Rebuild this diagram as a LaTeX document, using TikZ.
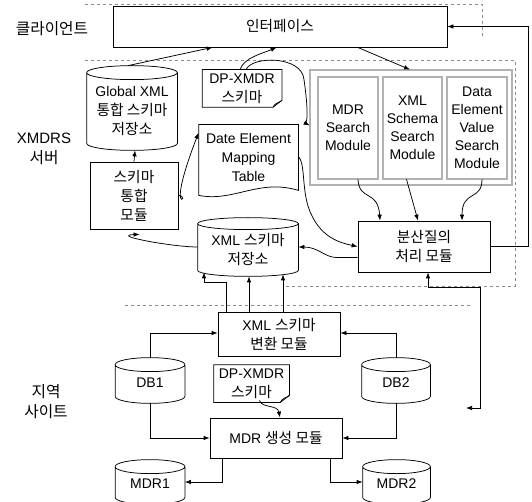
\documentclass[tikz,border=0pt]{standalone}
\usepackage{fontspec}
\setmainfont{Liberation Sans}
\newfontfamily\kr[Scale=1.05]{Noto Sans CJK KR}
\usetikzlibrary{arrows.meta,calc}
\newcommand\cylout[2]{%
  \draw let \p1=(#1.north west), \p2=(#1.south east), \n1={(\x2-\x1)/2} in
    (\x1,\y1) -- (\x1,\y2) arc[start angle=180,end angle=360,x radius=\n1,y radius=#2pt]
    -- (\x2,\y1) arc[start angle=0,end angle=180,x radius=\n1,y radius=#2pt]
    (\x1,\y1) arc[start angle=180,end angle=360,x radius=\n1,y radius=#2pt];}
\newcommand\docout[1]{%
  \draw (#1.north west) -- (#1.north east) -- ([yshift=7pt]#1.south east)
    -- ([xshift=-9pt]#1.south east) -- (#1.south west) -- cycle;
  \draw ([xshift=-9pt]#1.south east) .. controls ([xshift=-7pt,yshift=5pt]#1.south east) and ([xshift=-3pt,yshift=4pt]#1.south east) .. ([yshift=7pt]#1.south east);}
\begin{document}
\begin{tikzpicture}[x=1pt,y=-1pt,line width=0.75pt,
  txt/.style={align=center,inner sep=0pt,font=\fontsize{14}{19}\selectfont},
  box/.style={txt,draw},
  hid/.style={txt,draw=none},
  mod/.style={txt,draw=black!85,double=black!30,double distance=1.2pt,font=\fontsize{14}{18}\selectfont},
  arr/.style={-{Latex[length=6pt,width=4.5pt]}},
  biarr/.style={{Latex[length=6pt,width=4.5pt]}-{Latex[length=6pt,width=4.5pt]}},
  region/.style={draw=black!45,line width=0.5pt,dash pattern=on 3pt off 3pt},
  lbl/.style={align=center,inner sep=0pt,font=\fontsize{15}{20}\selectfont}]
\useasboundingbox (0,0) rectangle (532,502);

% region separators
\draw[region] (85,4) -- (482,4) -- (482,38);
\draw[region] (85,60) -- (515,60) -- (515,286) -- (285,286);
\draw[region] (125,305) -- (470,305);

% side labels
\node[lbl] (lc) at (52,29) {\kr 클라이언트};
\node[lbl] (ls) at (44,149) {XMDRS\\{\kr 서버}};
\node[lbl] (ll) at (46,402) {{\kr 지역}\\{\kr 사이트}};

% client
\node[box,minimum width=334pt,minimum height=41pt] (intf) at (280,26.5) {\kr 인터페이스};

% server
\node[hid,minimum width=90pt,minimum height=70pt] (gx) at (132,108) {};
\cylout{gx}{7}
\node[txt] (gxt) at ([yshift=-3pt]gx.center) {Global XML\\{\kr 통합 스키마}\\{\kr 저장소}};
\node[hid,minimum width=79pt,minimum height=37pt] (dp1) at (242,88.5) {DP-XMDR\\{\kr 스키마}};
\docout{dp1}
\node[hid,minimum width=99pt,minimum height=65pt] (mt) at (248.5,157.5) {Date Element\\Mapping\\Table};
\draw (mt.north east) -- (mt.north west) -- ([yshift=-5pt]mt.south west)
  .. controls ([xshift=35pt,yshift=-12pt]mt.south west) and ([xshift=-40pt,yshift=12pt]mt.south east) .. (mt.south east) -- cycle;
\node[box,minimum width=88pt,minimum height=67pt] (sm) at (134,195.5) {\kr 스키마\\\kr 통합\\\kr 모듈};
\node[hid,minimum width=100pt,minimum height=46pt] (xs) at (248,247) {};
\cylout{xs}{6}
\node[txt] (xst) at ([yshift=-3pt]xs.center) {XML {\kr 스키마}\\{\kr 저장소}};

\node[draw=black!85,double=black!30,double distance=1.4pt,minimum width=202pt,minimum height=115pt,inner sep=0pt] (grp) at (411,127.5) {};
\node[mod,minimum width=60pt,minimum height=102pt] (m1) at (348,128) {MDR\\Search\\Module};
\node[mod,minimum width=59pt,minimum height=102pt] (m2) at (412.5,128) {XML\\Schema\\Search\\Module};
\node[mod,minimum width=60pt,minimum height=102pt] (m3) at (477,128) {Data\\Element\\Value\\Search\\Module};

\node[box,minimum width=132pt,minimum height=51pt] (dq) at (424,246.5) {{\kr 분산질의}\\{\kr 처리 모듈}};

% local site
\node[box,minimum width=122pt,minimum height=44pt] (cv) at (279,334) {XML {\kr 스키마}\\{\kr 변환 모듈}};
\node[hid,minimum width=69pt,minimum height=31pt] (db1) at (150,380.5) {};
\cylout{db1}{7}
\node[txt] (db1t) at ([yshift=-2pt]db1.center) {DB1};
\node[hid,minimum width=68pt,minimum height=31pt] (db2) at (396,380.5) {};
\cylout{db2}{7}
\node[txt] (db2t) at ([yshift=-2pt]db2.center) {DB2};
\node[hid,minimum width=75pt,minimum height=37pt] (dp2) at (251.5,383.5) {DP-XMDR\\{\kr 스키마}};
\docout{dp2}
\node[box,minimum width=132pt,minimum height=40pt] (mg) at (276,438) {MDR {\kr 생성 모듈}};
\node[hid,minimum width=69pt,minimum height=30pt] (mdr1) at (150,482) {};
\cylout{mdr1}{7}
\node[txt] (mdr1t) at ([yshift=-2pt]mdr1.center) {MDR1};
\node[hid,minimum width=67pt,minimum height=30pt] (mdr2) at (396.5,482) {};
\cylout{mdr2}{7}
\node[txt] (mdr2t) at ([yshift=-2pt]mdr2.center) {MDR2};

% connectors: server/client
\draw[arr] ([xshift=-4pt,yshift=7pt]gx.north) -- ([xshift=100pt]intf.south west);
\draw[arr] ([xshift=-2pt]dp1.north) .. controls ([xshift=2pt,yshift=12pt]dp1.north) and ([xshift=20pt,yshift=16pt]dp1.north) .. ([xshift=164pt]intf.south west);
\draw[arr] ([xshift=4pt]dp1.north) .. controls ([xshift=10pt,yshift=14pt]dp1.north) and ([xshift=60pt,yshift=14pt]dp1.north) .. ([xshift=62pt,yshift=-10pt]dp1.north)
  .. controls ([xshift=66pt,yshift=-38pt]dp1.north) and ([xshift=66pt,yshift=-55pt]dp1.north) .. ([yshift=2pt]grp.west);
\draw[arr] ([xshift=245pt]intf.south west) -- ([xshift=-1pt]grp.north);
\draw[arr] (dq.east) -- ++(38,0) |- (intf.east);
\draw[arr] (sm.north) -- ([xshift=3pt,yshift=-7pt]gx.south);
\draw[arr] (sm.east) .. controls ([xshift=14pt]sm.east) and ([xshift=-14pt,yshift=-26pt]sm.east) .. ([yshift=-8pt]mt.north west);
\draw[arr] ([yshift=-32pt]mt.north east) .. controls ([xshift=8pt,yshift=-40pt]mt.north east) and ([xshift=2pt,yshift=-70pt]mt.north east) .. ([xshift=14pt,yshift=-92pt]mt.north east)
  .. controls ([xshift=24pt,yshift=-112pt]mt.north east) and ([xshift=40pt,yshift=-118pt]mt.north east) .. (dq.west);
\draw[arr] ([yshift=-11pt]dq.west) -- ++(-21,0) .. controls ++(-12,0) and ([xshift=20pt]xs.east) .. (xs.east);
\draw[arr] (xs.west) .. controls ([xshift=-25pt]xs.west) and ([xshift=20pt,yshift=-6pt]sm.south west) .. ([xshift=50pt,yshift=-5pt]sm.south west);
\draw[arr] ([xshift=10pt]m1.south) .. controls ([xshift=11pt,yshift=-22pt]m1.south) and ([xshift=30pt,yshift=-10pt]m1.south) .. ([xshift=-44pt]dq.north);
\draw[arr] ([xshift=-6pt]m2.south) -- ([xshift=-6pt]dq.north);
\draw[arr] ([xshift=5pt]m3.south) .. controls ([xshift=5pt,yshift=-22pt]m3.south) and ([xshift=-15pt,yshift=-10pt]m3.south) .. ([xshift=38pt]dq.north);

% connectors: local site
\draw[arr] ([xshift=-53pt]cv.north) |- ([xshift=-44pt,yshift=-12pt]xs.south) -- ([xshift=-44pt,yshift=-2pt]xs.south);
\draw[arr] ([xshift=-30pt]cv.north) -- ([xshift=1pt,yshift=-6pt]xs.south);
\draw[arr] ([xshift=4pt]cv.north) -- ([xshift=35pt,yshift=-4pt]xs.south);
\coordinate (free) at (466,408);
\draw[biarr] (free) -| (480,287) -| ([xshift=4pt]dq.south);
\draw[arr] ([yshift=7pt]db1.north) |- ([yshift=1pt]cv.west);
\draw[arr] ([yshift=7pt]db2.north) |- ([yshift=1pt]cv.east);
\draw[arr] ([yshift=-7pt]db1.south) |- (mg.west);
\draw[arr] ([yshift=-7pt]db2.south) |- (mg.east);
\draw[arr] ([xshift=8pt,yshift=2pt]dp2.south) .. controls ([xshift=10pt,yshift=-6pt]dp2.south) and ([xshift=26pt,yshift=-2pt]dp2.south) .. ([xshift=4pt]mg.north);
\draw[arr] ([xshift=-54pt]mg.south) |- (mdr1.east);
\draw[arr] ([xshift=54pt]mg.south) |- (mdr2.west);
\end{tikzpicture}
\end{document}
